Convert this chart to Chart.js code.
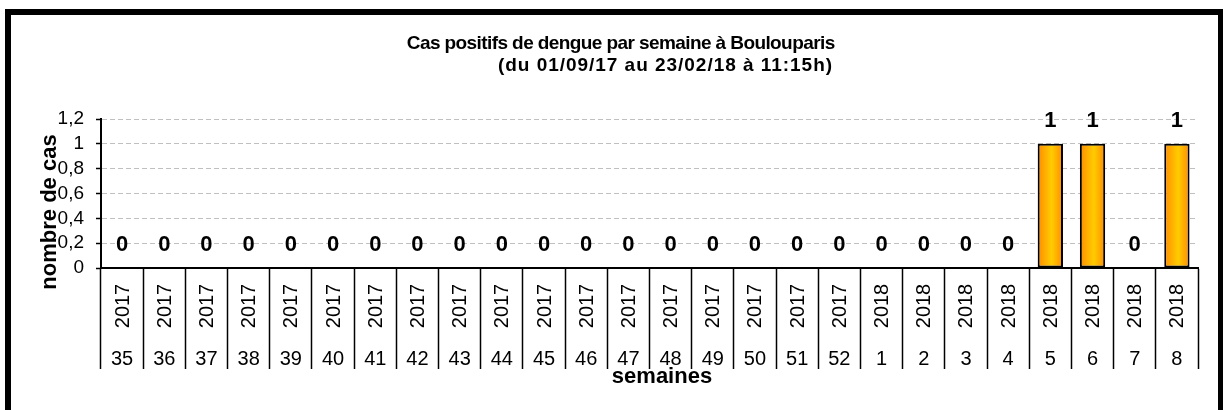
<!DOCTYPE html>
<html>
<head>
<meta charset="utf-8">
<script src="https://cdn.jsdelivr.net/npm/chart.js@4.4.0/dist/chart.umd.min.js"></script>
<style>
  body { margin: 0; background: #fff; }
  canvas { display: block; }
</style>
</head>
<body>
<canvas id="myChart" width="1223" height="410"></canvas>
<script>
const weeks = ['35','36','37','38','39','40','41','42','43','44','45','46','47','48','49','50','51','52','1','2','3','4','5','6','7','8'];
const years = ['2017','2017','2017','2017','2017','2017','2017','2017','2017','2017','2017','2017','2017','2017','2017','2017','2017','2017','2018','2018','2018','2018','2018','2018','2018','2018'];
const cases = [0,0,0,0,0,0,0,0,0,0,0,0,0,0,0,0,0,0,0,0,0,0,1,1,0,1];
const yTicks = [0, 0.2, 0.4, 0.6, 0.8, 1, 1.2];

const titleLines = ['Cas positifs de dengue par semaine à Boulouparis', '(du 01/09/17 au 23/02/18 à 11:15h)'];
const yTitle = 'nombre de cas';
const xTitle = 'semaines';

const FONT = "'Liberation Sans', Arial, sans-serif";
const ctx = document.getElementById('myChart').getContext('2d');

// orange gradient across each bar, like the excel fill
function barFill(context) {
  const chart = context.chart;
  const xs = chart.scales.x;
  if (!xs || !chart.chartArea) return '#FFB000';
  const cx = xs.getPixelForValue(context.dataIndex);
  const half = 12.5;
  const g = chart.ctx.createLinearGradient(cx - half, 0, cx + half, 0);
  g.addColorStop(0, '#FF8C00');
  g.addColorStop(0.55, '#FFCC00');
  g.addColorStop(1, '#FF8C00');
  return g;
}

// excel spreads its title text a bit, stretch to the measured width
function spreadText(c, text, cx, y, target) {
  c.letterSpacing = '0px';
  const w = c.measureText(text).width;
  const sp = (target - w) / text.length;
  c.letterSpacing = sp.toFixed(2) + 'px';
  c.fillText(text, cx + sp / 2, y);
  c.letterSpacing = '0px';
}

const extras = {
  id: 'extras',
  afterDraw(chart) {
    const c = chart.ctx;
    const xs = chart.scales.x;
    c.save();
    c.fillStyle = '#000';
    c.textAlign = 'center';
    c.textBaseline = 'middle';

    // title
    c.font = 'bold 19px ' + FONT;
    spreadText(c, titleLines[0], 621, 44, 428);
    spreadText(c, titleLines[1], 665, 66, 335);

    // value labels
    c.font = 'bold 22px ' + FONT;
    const meta = chart.getDatasetMeta(0);
    meta.data.forEach((bar, i) => {
      c.fillText(String(cases[i]), bar.x, bar.y - 23);
    });

    // two level category labels
    c.font = '20px ' + FONT;
    weeks.forEach((w, i) => {
      const x = xs.getPixelForValue(i);
      c.fillText(w, x, 359);
      c.save();
      c.translate(x + 1, 306);
      c.rotate(-Math.PI / 2);
      c.fillText(years[i], 0, 0);
      c.restore();
    });

    // axis titles
    c.font = 'bold 22px ' + FONT;
    c.fillText(xTitle, 662, 377);
    c.save();
    c.translate(50, 212);
    c.rotate(-Math.PI / 2);
    c.fillText(yTitle, 0, 0);
    c.restore();

    // outer frame
    c.strokeStyle = '#000';
    c.lineWidth = 6;
    c.strokeRect(8, 12, 1213, 500);
    c.restore();
  }
};

new Chart(ctx, {
  type: 'bar',
  data: {
    labels: weeks,
    datasets: [{
      data: cases,
      backgroundColor: barFill,
      borderColor: '#000',
      borderWidth: 2,
      borderSkipped: false,
      barPercentage: 0.6,
      categoryPercentage: 1
    }]
  },
  options: {
    responsive: false,
    animation: false,
    layout: { padding: { left: 0, top: 119, right: 25, bottom: 0 } },
    plugins: {
      legend: { display: false },
      tooltip: { enabled: false }
    },
    scales: {
      x: {
        afterFit: (scale) => { scale.height = 142; },
        ticks: { display: false },
        grid: {
          offset: true,
          drawOnChartArea: false,
          tickLength: 101,
          tickColor: '#000',
          tickWidth: 1.5
        },
        border: { color: '#000', width: 2 }
      },
      y: {
        min: 0,
        max: 1.2,
        afterFit: (scale) => { scale.width = 101; },
        afterBuildTicks: (scale) => { scale.ticks = yTicks.map(v => ({ value: v })); },
        ticks: {
          autoSkip: false,
          padding: 12,
          color: '#000',
          font: { family: FONT, size: 19 },
          callback: (v) => String(Math.round(v * 10) / 10).replace('.', ',')
        },
        grid: {
          color: '#C0C0C0',
          lineWidth: 1,
          tickLength: 5,
          tickColor: '#000',
          tickWidth: 1.5,
          tickBorderDash: [6, 0]
        },
        border: { color: '#000', width: 2, dash: [5, 3] }
      }
    }
  },
  plugins: [extras]
});
</script>
</body>
</html>
